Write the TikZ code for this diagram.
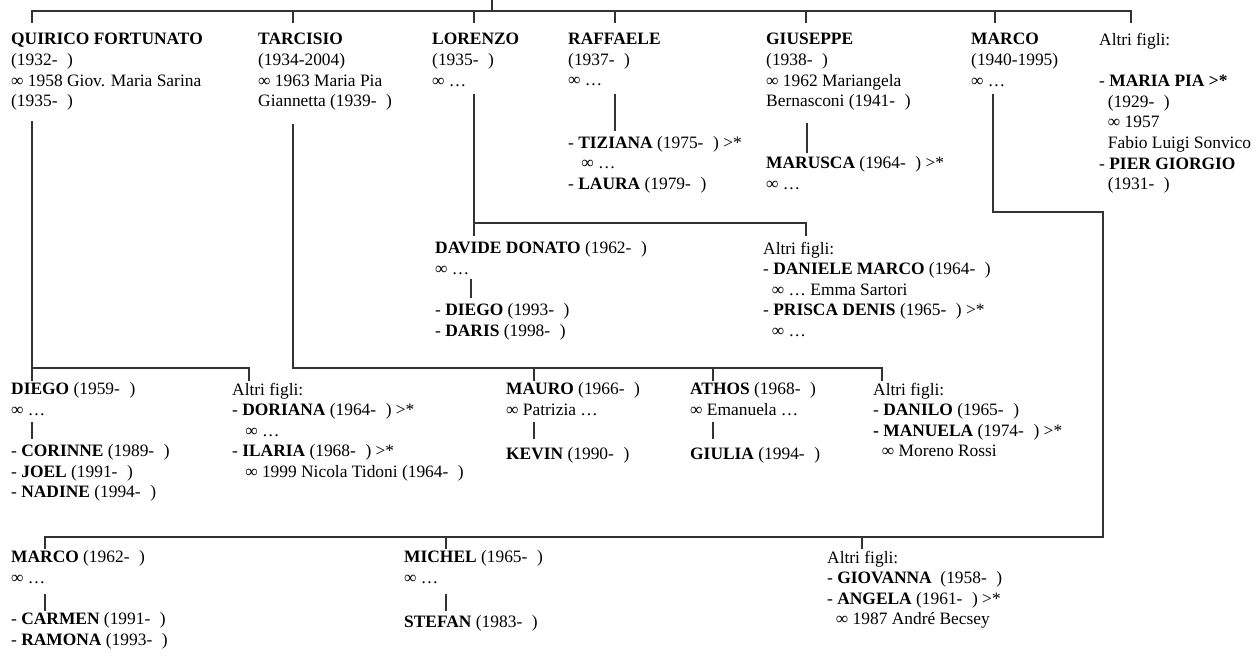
\documentclass[tikz,border=0pt]{standalone}
\usepackage{fontspec}
\setmainfont{Liberation Serif}
\newcommand\yy[1]{(#1-\hspace{0.55em})}
\newcommand\ind{\hspace*{0.5em}}
\newcommand\indb{\hspace*{0.75em}}
\newcommand\stru{\rule{0pt}{14.4pt}}
\begin{document}
\begin{tikzpicture}[x=1pt,y=-1pt,
  txt/.style={anchor=north west, inner sep=0pt, align=left,
    font=\fontsize{17.4}{20.6}\selectfont, execute at begin node=\stru},
  ln/.style={line width=1.3pt, draw=black!80, line cap=rect}]
\useasboundingbox (0,0) rectangle (1260,658);

% ---------- generation 1 ----------
\node[txt] (q) at (11,33.1) {\textbf{QUIRICO FORTUNATO}\\\yy{1932}\\∞ 1958 Giov. Maria Sarina\\\yy{1935}};
\node[txt] (t) at (258,33.1) {\textbf{TARCISIO}\\(1934-2004)\\∞ 1963 Maria Pia\\Giannetta \yy{1939}};
\node[txt] (l) at (432,33.1) {\textbf{LORENZO}\\\yy{1935}\\∞ …};
\node[txt] (r) at (568,33.1) {\textbf{RAFFAELE}\\\yy{1937}\\∞ …};
\node[txt] (g) at (766,33.1) {\textbf{GIUSEPPE}\\\yy{1938}\\∞ 1962 Mariangela\\Bernasconi \yy{1941}};
\node[txt] (m) at (971,33.1) {\textbf{MARCO}\\(1940-1995)\\∞ …};
\node[txt] (a) at (1099,33.1) {Altri figli:\\[20.6pt]- \textbf{MARIA PIA >*}\\\ind\yy{1929}\\\ind∞ 1957\\\ind Fabio Luigi Sonvico\\- \textbf{PIER GIORGIO}\\\ind\yy{1931}};

% children of Raffaele and Giuseppe
\node[txt] (rk) at (568,136.1) {- \textbf{TIZIANA} \yy{1975} >*\\\indb∞ …\\- \textbf{LAURA} \yy{1979}};
\node[txt] (gk) at (766,156.7) {\textbf{MARUSCA} \yy{1964} >*\\∞ …};

% children of Lorenzo
\node[txt] (dd) at (435,241.6) {\textbf{DAVIDE DONATO} \yy{1962}\\∞ …};
\node[txt] (ddk) at (435,303.4) {- \textbf{DIEGO} \yy{1993}\\- \textbf{DARIS} \yy{1998}};
\node[txt] (la) at (763,241.6) {Altri figli:\\- \textbf{DANIELE MARCO} \yy{1964}\\\ind∞ … Emma Sartori\\- \textbf{PRISCA DENIS} \yy{1965} >*\\\ind∞ …};

% children of Quirico
\node[txt] (di) at (11,382.6) {\textbf{DIEGO} \yy{1959}\\∞ …};
\node[txt] (dik) at (11,444.4) {- \textbf{CORINNE} \yy{1989}\\- \textbf{JOEL} \yy{1991}\\- \textbf{NADINE} \yy{1994}};
\node[txt] (qa) at (232,382.6) {Altri figli:\\- \textbf{DORIANA} \yy{1964} >*\\\indb∞ …\\- \textbf{ILARIA} \yy{1968} >*\\\indb∞ 1999 Nicola Tidoni \yy{1964}};

% children of Tarcisio
\node[txt] (ma) at (506,382.6) {\textbf{MAURO} \yy{1966}\\∞ Patrizia …};
\node[txt] (mak) at (506,444.4) {\textbf{KEVIN} \yy{1990}};
\node[txt] (at) at (690,382.6) {\textbf{ATHOS} \yy{1968}\\∞ Emanuela …};
\node[txt] (atk) at (690,444.4) {\textbf{GIULIA} \yy{1994}};
\node[txt] (ta) at (873,382.6) {Altri figli:\\- \textbf{DANILO} \yy{1965}\\\textbf{- MANUELA} \yy{1974} >*\\\ind∞ Moreno Rossi};

% children of Marco
\node[txt] (mc) at (11,550.6) {\textbf{MARCO} \yy{1962}\\∞ …};
\node[txt] (mck) at (11,612.6) {- \textbf{CARMEN} \yy{1991}\\- \textbf{RAMONA} \yy{1993}};
\node[txt] (mi) at (404,550.6) {\textbf{MICHEL} \yy{1965}\\∞ …};
\node[txt] (mik) at (404,612.6) {\textbf{STEFAN} \yy{1983}};
\node[txt] (mo) at (827,550.6) {Altri figli:\\- \textbf{GIOVANNA}\ \ \yy{1958}\\- \textbf{ANGELA} \yy{1961} >*\\\ind∞ 1987 André Becsey};

% ---------- junction coordinates ----------
\coordinate (root) at (492,0);
\coordinate (bar) at (492,11);
\foreach \n/\x in {q/32,t/293,l/474,r/615,g/806,m/995,a/1131}{
  \coordinate (\n-in) at (\x,22);
}
% Quirico
\coordinate (q-out) at (32,122);
\coordinate (q-bar) at (32,368);
\coordinate (di-in) at (32,380);
\coordinate (qa-in) at (249,380);
% Tarcisio
\coordinate (t-out) at (293,125);
\coordinate (t-bar) at (293,368);
\coordinate (ma-in) at (534,380);
\coordinate (at-in) at (713,380);
\coordinate (ta-in) at (882,380);
% Lorenzo
\coordinate (l-out) at (474,95);
\coordinate (l-bar) at (474,223);
\coordinate (dd-in) at (474,235);
\coordinate (la-in) at (806,235);
% Raffaele, Giuseppe
\coordinate (r-out) at (615,95);
\coordinate (rk-in) at (615,130);
\coordinate (g-out) at (807,124);
\coordinate (gk-in) at (807,152);
% Marco
\coordinate (m-out) at (993,95);
\coordinate (m-turn) at (993,212);
\coordinate (m-right) at (1103,212);
\coordinate (m-bar) at (1103,537);
\coordinate (mc-in) at (45,548);
\coordinate (mi-in) at (446,548);
\coordinate (mo-in) at (862,548);
% grandchildren links
\coordinate (dd-out) at (471,280);
\coordinate (ddk-in) at (471,297);
\coordinate (di-out) at (32,423);
\coordinate (dik-in) at (32,438);
\coordinate (ma-out) at (534,423);
\coordinate (mak-in) at (534,438);
\coordinate (at-out) at (713,423);
\coordinate (atk-in) at (713,438);
\coordinate (mc-out) at (45,595);
\coordinate (mck-in) at (45,610);
\coordinate (mi-out) at (446,595);
\coordinate (mik-in) at (446,610);

% ---------- connectors ----------
\draw[ln] (root) -- (bar);
\draw[ln] (q-in |- bar) -- (a-in |- bar);
\foreach \n in {q,t,l,r,g,m,a}{ \draw[ln] (\n-in |- bar) -- (\n-in); }

\draw[ln] (q-out) -- (di-in);
\draw[ln] (q-bar) -| (qa-in);

\draw[ln] (t-out) -- (t-bar) -| (ta-in);
\draw[ln] (ma-in |- t-bar) -- (ma-in);
\draw[ln] (at-in |- t-bar) -- (at-in);

\draw[ln] (l-out) -- (dd-in);
\draw[ln] (l-bar) -| (la-in);

\draw[ln] (r-out) -- (rk-in);
\draw[ln] (g-out) -- (gk-in);

\draw[ln] (m-out) -- (m-turn) -- (m-right) -- (m-bar) -- (mc-in |- m-bar) -- (mc-in);
\draw[ln] (mi-in |- m-bar) -- (mi-in);
\draw[ln] (mo-in |- m-bar) -- (mo-in);

\draw[ln] (dd-out) -- (ddk-in);
\draw[ln] (di-out) -- (dik-in);
\draw[ln] (ma-out) -- (mak-in);
\draw[ln] (at-out) -- (atk-in);
\draw[ln] (mc-out) -- (mck-in);
\draw[ln] (mi-out) -- (mik-in);
\end{tikzpicture}
\end{document}
